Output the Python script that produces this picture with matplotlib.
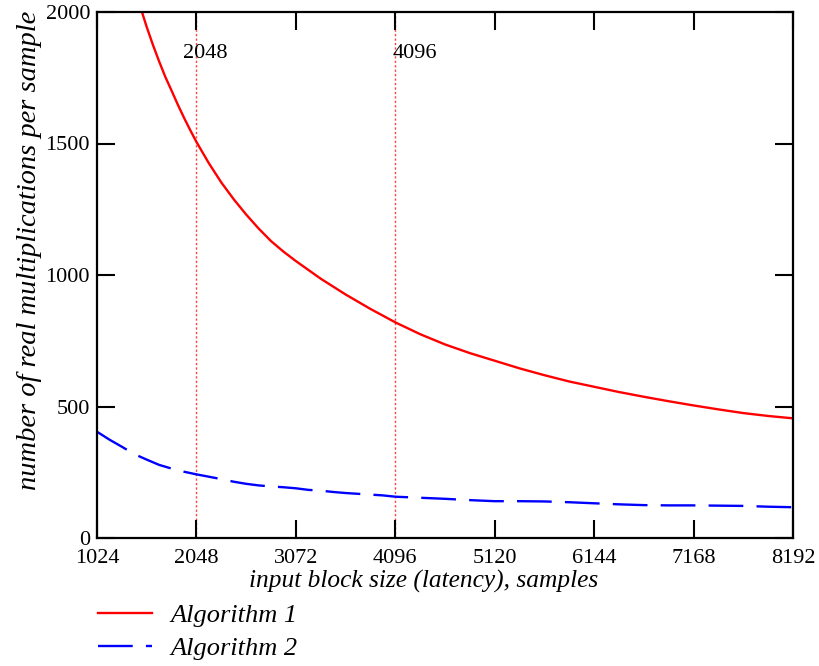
import matplotlib
matplotlib.use("Agg")
import matplotlib.pyplot as plt

# ---- data ----
alg1_n = [1487, 1536, 1600, 1664, 1728, 1792, 1856, 1920, 1984, 2048,
          2176, 2304, 2432, 2560, 2688, 2816, 2944, 3072, 3328, 3584,
          3840, 4096, 4352, 4608, 4864, 5120, 5376, 5632, 5888, 6144,
          6400, 6656, 6912, 7168, 7424, 7680, 7936, 8192]
alg1_mults = [2000, 1943, 1875, 1812, 1753, 1701, 1648, 1598, 1551, 1506,
              1425, 1352, 1288, 1230, 1177, 1129, 1089, 1053, 986, 926,
              871, 820, 775, 736, 703, 674, 645, 619, 595, 575,
              555, 537, 520, 504, 489, 475, 464, 455]

alg2_n = [1024, 1152, 1280, 1408, 1536, 1664, 1792, 1920, 2048, 2176,
          2304, 2432, 2560, 2688, 2816, 2944, 3072, 3200, 3328, 3456,
          3584, 3712, 3840, 3968, 4096, 4352, 4608, 4864, 5120, 5376,
          5632, 5888, 6144, 6400, 6656, 6912, 7168, 7424, 7680, 7936, 8192]
alg2_mults = [404, 374, 347, 319, 298, 278, 264, 252, 242, 233,
              224, 214, 206, 200, 196, 193, 189, 183, 180, 175,
              171, 168, 165, 162, 157, 153, 149, 144, 140, 140,
              139, 136, 132, 128, 125, 124, 124, 123, 122, 119, 117]

x_ticks = [1024, 2048, 3072, 4096, 5120, 6144, 7168, 8192]
y_ticks = [0, 500, 1000, 1500, 2000]
markers_n = [2048, 4096]
series_labels = ["Algorithm 1", "Algorithm 2"]

SERIF = ["Liberation Serif", "DejaVu Serif"]
plt.rcParams["font.family"] = SERIF
plt.rcParams["lines.scale_dashes"] = False

fig = plt.figure(figsize=(8.19, 6.66), dpi=100)
ax = fig.add_axes([97 / 819, 1 - 538 / 666, 696 / 819, 526 / 666])

l1, = ax.plot(alg1_n, alg1_mults, color="#ff0000", lw=1.7,
              label=series_labels[0])
l2, = ax.plot(alg2_n, alg2_mults, color="#0000ff", lw=1.7,
              label=series_labels[1])
l2.set_dashes((25, 9.5))

for m in markers_n:
    ax.axvline(m, color="#ff2020", lw=1.0, dashes=(1.6, 1.6), alpha=0.85,
               zorder=1)
    ax.text(m - (140 if m == 2048 else 24), 1844, str(m), fontsize=16,
            va="center", ha="left")

ax.set_xlim(x_ticks[0], x_ticks[-1])
ax.set_ylim(y_ticks[0], y_ticks[-1])
ax.set_xticks(x_ticks)
ax.set_yticks(y_ticks)
ax.tick_params(direction="in", top=True, right=True, length=13, width=1.5,
               labelsize=16, pad=5, color="black")
ax.tick_params(axis="x", pad=8)
for s in ax.spines.values():
    s.set_linewidth(1.6)

fig.text(424 / 819, 1 - 581 / 666, "input block size (latency), samples",
         fontsize=18.3, style="italic", ha="center", va="center")
fig.text(30 / 819, 1 - 250 / 666, "number of real multiplications per sample",
         fontsize=20.5, style="italic", ha="center", va="center",
         rotation=90)

fig.legend(handles=[l1, l2], loc="upper left",
           bbox_to_anchor=(74 / 819, 1 - 580 / 666), frameon=False,
           prop={"size": 19, "style": "italic", "family": SERIF},
           handlelength=2.05, handletextpad=0.7, labelspacing=0.35)

fig.savefig("out.png", dpi=100)
